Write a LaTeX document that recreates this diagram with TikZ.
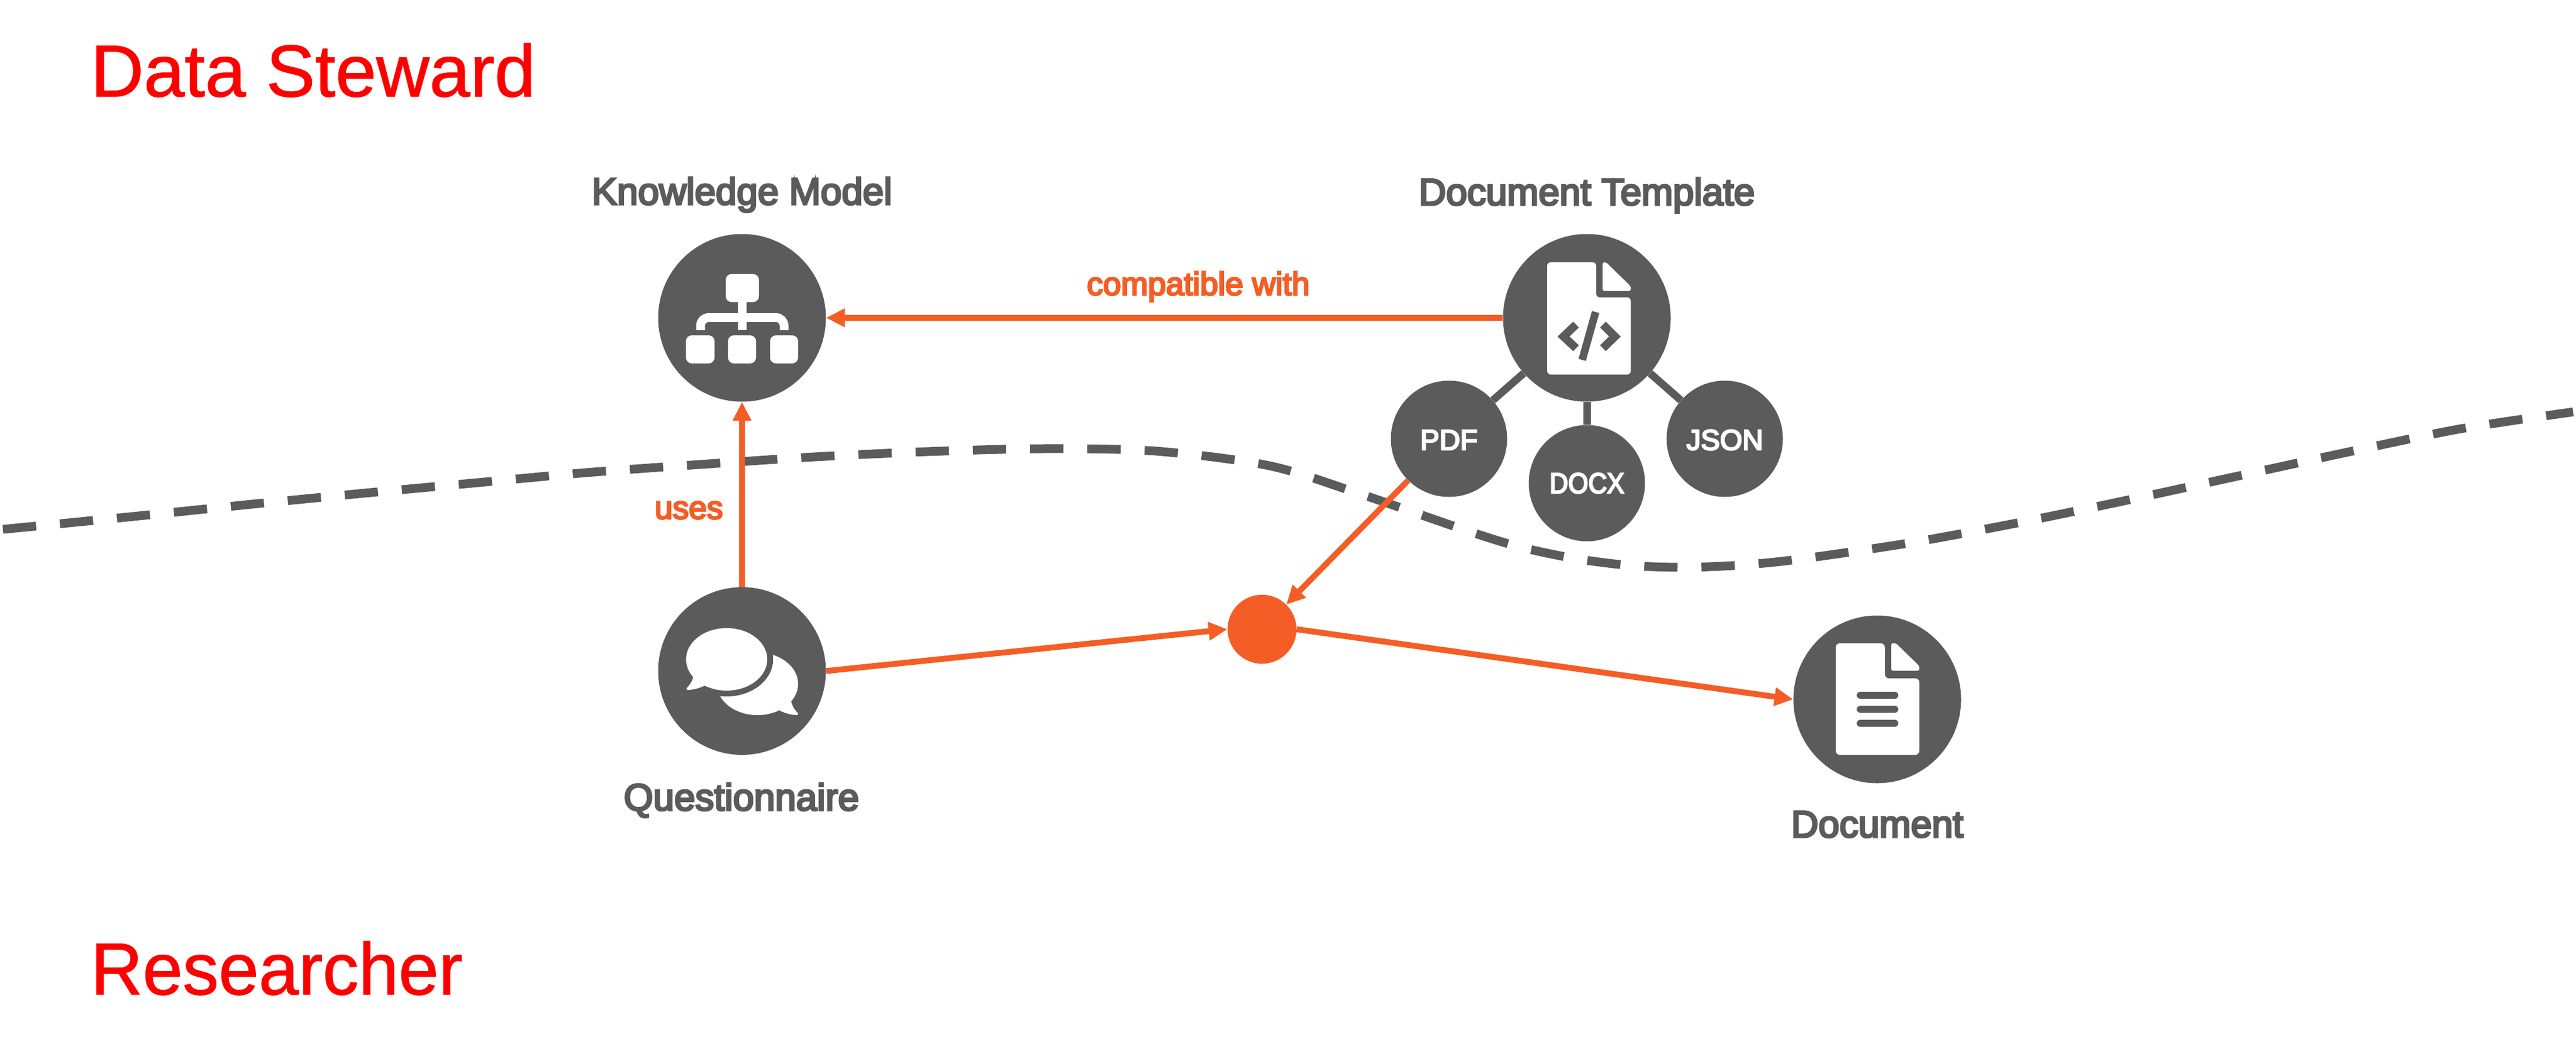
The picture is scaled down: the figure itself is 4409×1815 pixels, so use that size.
\documentclass[tikz,border=0pt]{standalone}
\usepackage{fontspec}
\setmainfont{Liberation Sans}
\newfontfamily\medfont[FakeBold=5]{Liberation Sans}
\newfontfamily\titlefont[FakeBold=1]{Liberation Sans}
\usetikzlibrary{arrows.meta}
\definecolor{greyc}{HTML}{5B5B5B}
\definecolor{orangec}{HTML}{F45D26}
\definecolor{redc}{HTML}{FF0000}
\tikzset{
  bigdot/.style={circle,fill=greyc,draw=none,inner sep=0pt,minimum size=287*0.2mm},
  smalldot/.style={circle,fill=greyc,draw=none,inner sep=0pt,minimum size=199*0.2mm},
  hubdot/.style={circle,fill=orangec,draw=none,inner sep=0pt,minimum size=118*0.2mm},
  flow/.style={draw=orangec,line width=10*0.2mm,-{Triangle[length=32*0.2mm,width=30*0.2mm]}},
  stem/.style={draw=greyc,line width=13*0.2mm},
  title/.style={text=redc,font=\titlefont\fontsize{71.5}{72}\selectfont,anchor=base west,inner sep=0pt},
  caption/.style={text=greyc,font=\medfont\fontsize{36.8}{37}\selectfont,anchor=base,inner sep=0pt},
  flowlabel/.style={text=orangec,font=\medfont\fontsize{31.5}{32}\selectfont,anchor=base,inner sep=0pt},
  dotlabel/.style={anchor=base,text=white,inner sep=0pt,font=\medfont\fontsize{28}{28}\selectfont},
  divider/.style={draw=greyc,line width=15*0.2mm,dash pattern=on 57*0.2mm off 41*0.2mm},
  whiteshape/.style={fill=white,draw=none},
  greyshape/.style={fill=greyc,draw=none},
  glyphline/.style={draw=greyc,line width=14*0.2mm}
}
\begin{document}
\begin{tikzpicture}[x=0.2mm,y=-0.2mm]
\useasboundingbox (0,0) rectangle (4409,1815);
% divider
\draw[divider] plot[smooth,tension=0.5] coordinates {(5,906) (228,884) (421,864) (614,845) (808,827) (1003,809) (1198,795) (1394,782) (1587,773) (1782,768) (1977,772) (2172,797) (2327,845) (2510,908) (2601,936) (2696,956) (2792,968) (2886,971) (2982,967) (3080,957) (3270,929) (3458,894) (3646,855) (3834,814) (4022,773) (4211,734) (4404,705)};
% nodes
\node[bigdot] (km) at (1270,544) {};
\node[bigdot] (dt) at (2716,544) {};
\node[bigdot] (q) at (1270,1148.5) {};
\node[bigdot] (doc) at (3213,1197) {};
\node[hubdot] (hub) at (2160,1077) {};
\node[smalldot] (pdf) at (2480,751) {};
\node[smalldot] (docx) at (2716,827) {};
\node[smalldot] (json) at (2952,751) {};
\node[dotlabel] (pdft) at (2480,770) {PDF};
\node[dotlabel] (docxt) at (2716,844) {\scalebox{0.9}[1]{DOCX}};
\node[dotlabel] (jsont) at (2952,770) {JSON};
% stems
\draw[stem] (dt) -- (pdf);
\draw[stem] (dt) -- (docx);
\draw[stem] (dt) -- (json);
% flows
\draw[flow] (dt.west) -- (km.east);
\draw[flow] (q) -- (km);
\draw[flow] (q.east) -- (hub.west);
\draw[flow] (pdf) -- (hub);
\draw[flow] (hub.east) -- (doc.west);
% texts
\node[title] (t1) at (155,165) {Data Steward};
\node[title] (t2) at (155,1702) {\scalebox{0.98}[1]{Researcher}};
\node[caption] (c1) at (1270,350) {Knowledge Model};
\node[caption] (c2) at (2716,351) {Document Template};
\node[caption] (c3) at (1269,1387) {Questionnaire};
\node[caption] (c4) at (3213,1433) {Document};
\node[flowlabel] (l1) at (2051,505) {compatible with};
\node[flowlabel] (l2) at (1179,888) {uses};
% org chart icon
\fill[whiteshape,rounded corners=10*0.2mm] (1242,469) rectangle (1299,517);
\fill[whiteshape,rounded corners=10*0.2mm] (1174,574) rectangle (1223,622);
\fill[whiteshape,rounded corners=10*0.2mm] (1246,574) rectangle (1294,622);
\fill[whiteshape,rounded corners=10*0.2mm] (1318,574) rectangle (1366,622);
\fill[whiteshape] (1263,517) rectangle (1278,565);
\draw[white,line width=15*0.2mm,rounded corners=14*0.2mm] (1199,565) -- (1199,543.5) -- (1342,543.5) -- (1342,565);
% code file icon
\fill[whiteshape,rounded corners=6*0.2mm] (2648,449) -- (2732,449) -- (2732,509) -- (2791,509) -- (2791,641) -- (2648,641) -- cycle;
\fill[whiteshape,rounded corners=3*0.2mm] (2743,449) -- (2749,449) -- (2791,490) -- (2791,498) -- (2743,498) -- cycle;
\draw[glyphline] (2697.5,555.5) -- (2676,576) -- (2697.5,596);
\draw[glyphline] (2743.5,555.5) -- (2764,576) -- (2743.5,596);
\draw[glyphline,line width=13*0.2mm] (2731,534) -- (2708,616);
% document icon
\fill[whiteshape,rounded corners=7*0.2mm] (3142,1101) -- (3226,1101) -- (3226,1161) -- (3285,1161) -- (3285,1292) -- (3142,1292) -- cycle;
\fill[whiteshape,rounded corners=3*0.2mm] (3237,1101) -- (3245,1101) -- (3285,1140) -- (3285,1148) -- (3237,1148) -- cycle;
\foreach \y in {1190,1214,1238}{\draw[greyc,line width=12*0.2mm,line cap=round] (3184,\y) -- (3243,\y);}
% chat icon
\fill[whiteshape] (1296.5,1170.5) ellipse (69.5 and 53.5);
\fill[whiteshape] (1354,1200) .. controls (1356,1209) and (1360,1215) .. (1366,1221) -- (1365,1224) .. controls (1355,1224) and (1344,1221) .. (1334,1216) -- cycle;
\fill[greyshape] (1243.7,1128.5) ellipse (79.5 and 63.5);
\fill[whiteshape] (1243.7,1128.5) ellipse (69.5 and 53.5);
\fill[whiteshape] (1187,1157) .. controls (1185,1166) and (1181,1172) .. (1175,1178) -- (1176,1181) .. controls (1186,1181) and (1197,1178) .. (1207,1173) -- cycle;
\end{tikzpicture}
\end{document}
